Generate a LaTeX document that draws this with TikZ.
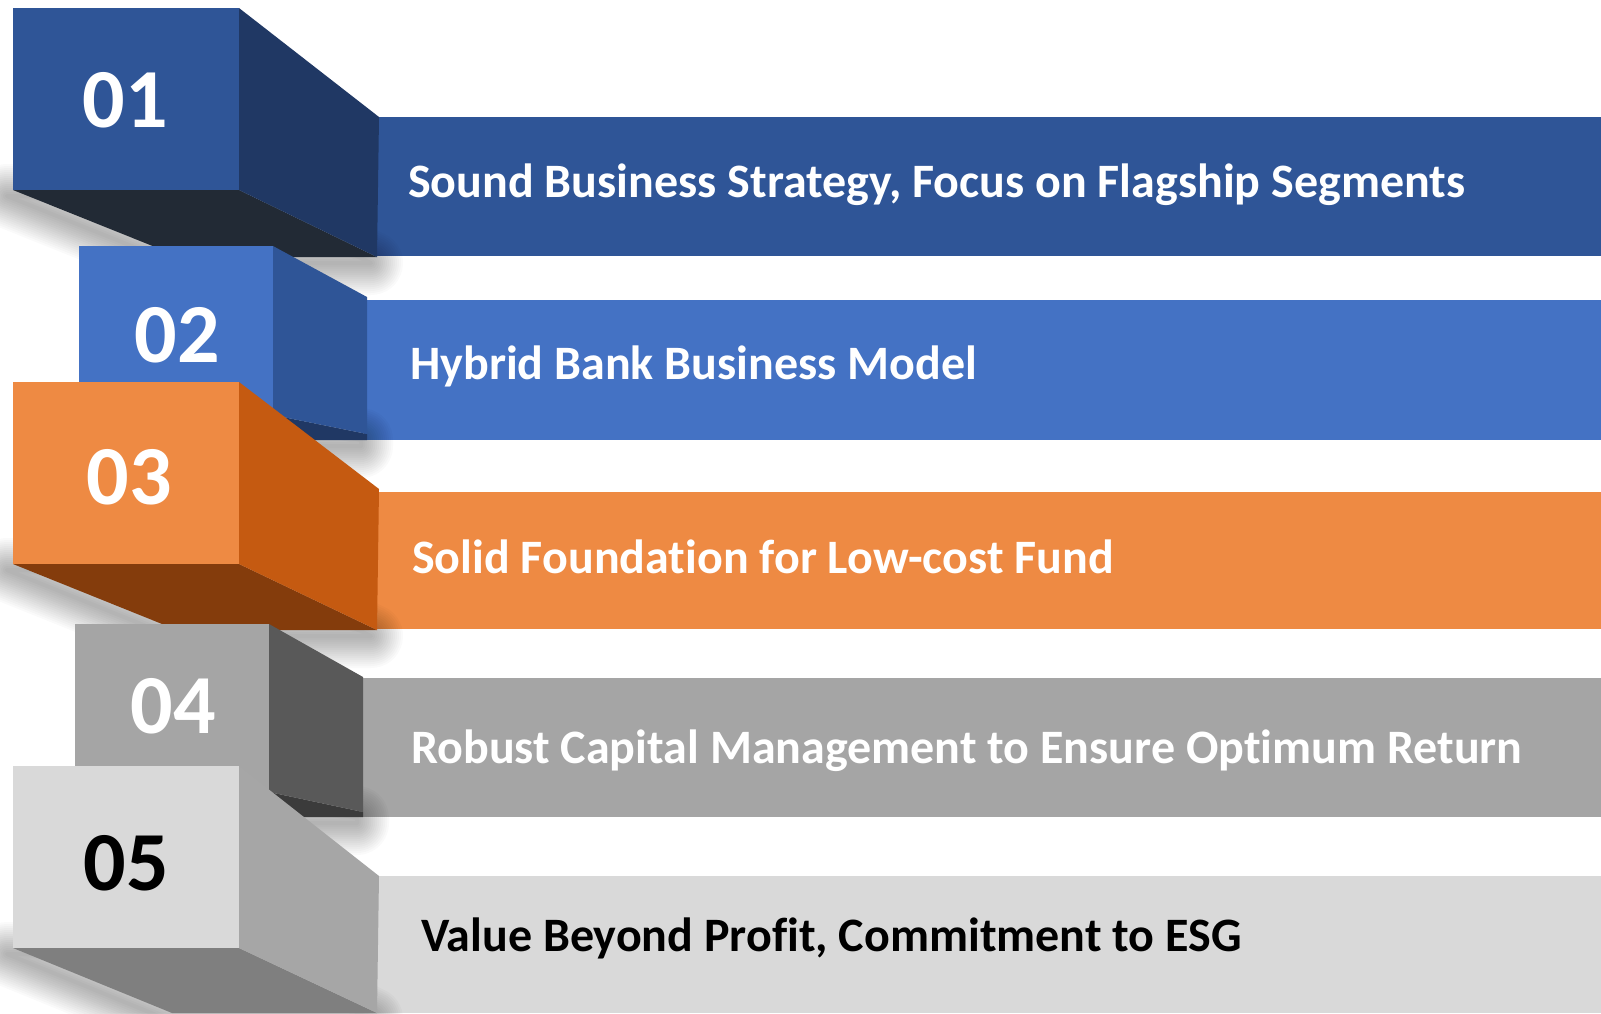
\documentclass[tikz,border=0pt]{standalone}
\usepackage{fontspec}
\setmainfont{Carlito}[Ligatures=NoCommon]
\definecolor{bA}{HTML}{2F5597}\definecolor{bAs}{HTML}{203864}\definecolor{bAb}{HTML}{222A35}
\definecolor{bB}{HTML}{4472C4}\definecolor{bBs}{HTML}{2F5597}\definecolor{bBb}{HTML}{203864}
\definecolor{bC}{HTML}{EE8A43}\definecolor{bCs}{HTML}{C55A11}\definecolor{bCb}{HTML}{843C0C}
\definecolor{bD}{HTML}{A5A5A5}\definecolor{bDs}{HTML}{595959}\definecolor{bDb}{HTML}{3B3B3B}
\definecolor{bE}{HTML}{D9D9D9}\definecolor{bEs}{HTML}{A6A6A6}\definecolor{bEb}{HTML}{7F7F7F}
\tikzset{
  numtxt/.style={font=\fontsize{84}{90}\selectfont\bfseries, inner sep=0pt, anchor=center},
  bantxt/.style={font=\fontsize{48}{54}\selectfont\bfseries, inner sep=0pt, anchor=base west},
  glow/.style={draw=black, draw opacity=0.018, line join=round, line width=#1}
}
\newcommand{\softshadow}[1]{%
  \foreach \w in {64,60,...,4}{\draw[glow=\w pt, shift={(-6,6)}] #1;}}
\begin{document}
\begin{tikzpicture}[x=1pt,y=-1pt]
\useasboundingbox (0,0) rectangle (1601,1013);
\fill[white] (0,0) rectangle (1601,1013);
% ---- 01
\fill[bA] (374,117) rectangle (1601,256);
\softshadow{(13,190) -- (239,190) -- (377,257) -- (180,257) -- cycle}
\fill[bAb] (13,190) -- (239,190) -- (377,257) -- (180,257) -- cycle;
\fill[bAs] (239,8) -- (379,117) -- (377,257) -- (239,190) -- cycle;
\fill[bA] (13,8) rectangle (239,190);
\node[numtxt, text=white] (n1) at (125,100) {01};
\node[bantxt, text=white] (t1) at (408,197) {Sound Business Strategy, Focus on Flagship Segments};
% ---- 02
\fill[bB] (364,300) rectangle (1601,440);
\softshadow{(79,415) -- (273,415) -- (367,434) -- (367,440) -- (150,440) -- cycle}
\fill[bBb] (79,415) -- (273,415) -- (367,434) -- (367,440) -- (150,440) -- cycle;
\fill[bBs] (273,246) -- (367,297) -- (367,434) -- (273,415) -- cycle;
\fill[bB] (79,246) rectangle (273,415);
\node[numtxt, text=white] (n2) at (177,335) {02};
\node[bantxt, text=white] (t2) at (410,379) {Hybrid Bank Business Model};
% ---- 03
\fill[bC] (374,492) rectangle (1601,629);
\softshadow{(13,564) -- (239,564) -- (377,630) -- (177,630) -- cycle}
\fill[bCb] (13,564) -- (239,564) -- (377,630) -- (177,630) -- cycle;
\fill[bCs] (239,382) -- (379,489) -- (377,630) -- (239,564) -- cycle;
\fill[bC] (13,382) rectangle (239,564);
\node[numtxt, text=white] (n3) at (129,477) {03};
\node[bantxt, text=white] (t3) at (412,573) {Solid Foundation for Low-cost Fund};
% ---- 04
\fill[bD] (360,678) rectangle (1601,817);
\softshadow{(75,792) -- (269,792) -- (363,812) -- (363,817) -- (160,817) -- cycle}
\fill[bDb] (75,792) -- (269,792) -- (363,812) -- (363,817) -- (160,817) -- cycle;
\fill[bDs] (269,624) -- (363,677) -- (363,812) -- (269,792) -- cycle;
\fill[bD] (75,624) rectangle (269,792);
\node[numtxt, text=white] (n4) at (173,706) {04};
\node[bantxt, text=white] (t4) at (411,763) {Robust Capital Management to Ensure Optimum Return};
% ---- 05
\fill[bE] (374,876) rectangle (1601,1013);
\softshadow{(13,948) -- (239,948) -- (377,1013) -- (172,1013) -- cycle}
\fill[bEb] (13,948) -- (239,948) -- (377,1013) -- (172,1013) -- cycle;
\fill[bEs] (239,766) -- (379,876) -- (377,1013) -- (239,948) -- cycle;
\fill[bE] (13,766) rectangle (239,948);
\node[numtxt, text=black] (n5) at (126,863) {05};
\node[bantxt, text=black] (t5) at (421,951) {Value Beyond Profit, Commitment to ESG};
\end{tikzpicture}
\end{document}
